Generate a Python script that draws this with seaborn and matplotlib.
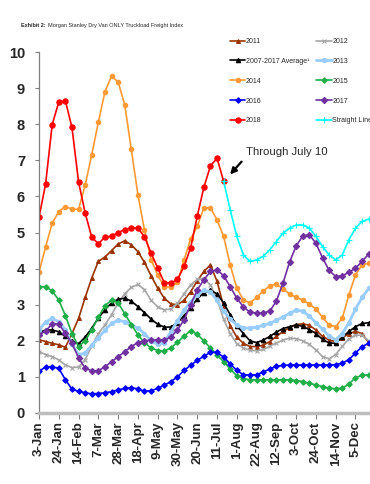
import matplotlib
matplotlib.use("Agg")
import matplotlib.pyplot as plt
import seaborn as sns

sns.set_theme(style="white")
plt.rcParams['font.family'] = ['Liberation Sans', 'DejaVu Sans']

weeks = list(range(51))
tick_weeks = list(range(0, 49, 3))
tick_labels = ['3-Jan', '24-Jan', '14-Feb', '7-Mar', '28-Mar', '18-Apr', '9-May',
               '30-May', '20-Jun', '11-Jul', '1-Aug', '22-Aug', '12-Sep', '3-Oct',
               '24-Oct', '14-Nov', '5-Dec']

y2011 = [2.03, 1.98, 1.93, 1.89, 1.82, 2.2, 2.62, 3.2, 3.74, 4.2, 4.32, 4.5, 4.68, 4.77,
         4.66, 4.47, 4.17, 3.8, 3.46, 3.18, 3.02, 3.0, 3.12, 3.36, 3.66, 3.92, 4.1, 3.65,
         2.95, 2.42, 2.1, 1.93, 1.84, 1.84, 1.88, 1.98, 2.12, 2.26, 2.36, 2.45, 2.47, 2.43,
         2.3, 2.12, 2.02, 1.98, 2.08, 2.2, 2.26, 2.2, 1.95]
y2012 = [1.7, 1.62, 1.56, 1.47, 1.33, 1.26, 1.27, 1.48, 1.85, 2.2, 2.44, 2.72, 3.05, 3.3,
         3.48, 3.56, 3.42, 3.12, 2.94, 2.86, 2.88, 3.04, 3.3, 3.55, 3.7, 3.72, 3.55, 3.15,
         2.6, 2.2, 1.92, 1.8, 1.74, 1.72, 1.76, 1.85, 1.94, 2.02, 2.07, 2.06, 2.0, 1.9,
         1.75, 1.56, 1.5, 1.62, 1.85, 2.05, 2.16, 2.15, 2.0]
avg = [2.23, 2.3, 2.3, 2.25, 2.12, 2.0, 1.92, 2.1, 2.35, 2.63, 2.86, 3.05, 3.15, 3.18,
       3.1, 2.95, 2.78, 2.6, 2.46, 2.38, 2.38, 2.5, 2.7, 2.92, 3.16, 3.33, 3.4, 3.3,
       3.05, 2.72, 2.42, 2.2, 2.0, 1.95, 2.02, 2.12, 2.24, 2.34, 2.39, 2.44, 2.4, 2.31,
       2.2, 2.04, 1.94, 1.93, 2.1, 2.26, 2.39, 2.48, 2.5]
y2013 = [2.3, 2.52, 2.62, 2.53, 2.3, 1.9, 1.62, 1.66, 1.88, 2.07, 2.3, 2.48, 2.57, 2.53,
         2.44, 2.35, 2.2, 2.0, 1.9, 1.95, 2.25, 2.55, 2.85, 3.08, 3.27, 3.4, 3.35, 3.12,
         2.82, 2.6, 2.44, 2.36, 2.35, 2.38, 2.43, 2.48, 2.57, 2.66, 2.76, 2.85, 2.82, 2.68,
         2.5, 2.32, 2.13, 2.03, 2.2, 2.5, 2.88, 3.2, 3.45]
y2014 = [3.9, 4.6, 5.26, 5.58, 5.72, 5.65, 5.64, 6.31, 7.16, 8.05, 8.9, 9.33, 9.17, 8.54,
         7.3, 6.05, 5.06, 4.25, 3.82, 3.5, 3.48, 3.62, 4.24, 4.82, 5.17, 5.68, 5.68, 5.35,
         4.89, 4.1, 3.46, 3.13, 3.05, 3.2, 3.38, 3.52, 3.57, 3.44, 3.3, 3.2, 3.13, 3.02,
         2.88, 2.65, 2.44, 2.39, 2.63, 3.27, 3.83, 4.1, 4.15]
y2015 = [3.5, 3.5, 3.38, 3.13, 2.7, 2.2, 1.84, 2.0, 2.3, 2.65, 2.97, 3.13, 3.05, 2.75,
         2.45, 2.17, 1.95, 1.8, 1.73, 1.72, 1.8, 1.96, 2.13, 2.28, 2.18, 2.0, 1.8, 1.61,
         1.42, 1.22, 1.03, 0.95, 0.92, 0.92, 0.92, 0.92, 0.92, 0.92, 0.92, 0.9, 0.87, 0.82,
         0.78, 0.73, 0.69, 0.67, 0.69, 0.8, 0.98, 1.04, 1.06]
y2016 = [1.15, 1.28, 1.28, 1.24, 0.92, 0.66, 0.6, 0.56, 0.53, 0.54, 0.56, 0.59, 0.64, 0.68,
         0.7, 0.67, 0.6, 0.62, 0.68, 0.77, 0.87, 1.0, 1.18, 1.32, 1.46, 1.57, 1.68, 1.68,
         1.55, 1.36, 1.18, 1.06, 1.05, 1.06, 1.13, 1.22, 1.29, 1.32, 1.33, 1.33, 1.33, 1.33,
         1.33, 1.33, 1.33, 1.34, 1.38, 1.48, 1.66, 1.84, 1.93]
y2017 = [2.16, 2.27, 2.47, 2.46, 2.21, 1.93, 1.53, 1.24, 1.17, 1.17, 1.28, 1.42, 1.56, 1.7,
         1.84, 1.95, 2.0, 2.02, 2.02, 2.02, 2.1, 2.3, 2.58, 3.0, 3.41, 3.69, 3.92, 3.97,
         3.8, 3.5, 3.18, 2.94, 2.79, 2.77, 2.77, 2.82, 3.1, 3.6, 4.18, 4.63, 4.9, 4.94,
         4.7, 4.3, 3.95, 3.78, 3.8, 3.9, 4.01, 4.2, 4.4]
y2018 = [5.42, 6.34, 7.99, 8.61, 8.65, 7.91, 6.4, 5.54, 4.87, 4.69, 4.87, 4.9, 5.0, 5.08,
         5.13, 5.12, 4.88, 4.43, 4.02, 3.61, 3.6, 3.7, 4.06, 4.58, 5.45, 6.25, 6.84, 7.06,
         6.42]
straight = [6.42, 5.63, 4.89, 4.38, 4.2, 4.24, 4.34, 4.52, 4.75, 4.98, 5.12, 5.21, 5.21,
            5.12, 4.89, 4.61, 4.38, 4.24, 4.38, 4.8, 5.12, 5.31, 5.37]
straight_weeks = weeks[28:]

series = [
    ('2011', weeks, y2011, '#993300', '^', 2.8, 1.2),
    ('2012', weeks, y2012, '#a6a6a6', 'x', 2.8, 1.2),
    ('2007-2017 Average¹', weeks, avg, '#000000', '^', 3.2, 1.2),
    ('2013', weeks, y2013, '#99ccff', 'o', 3.0, 2.0),
    ('2014', weeks, y2014, '#ff9933', 'o', 3.2, 1.2),
    ('2015', weeks, y2015, '#1fae47', 'D', 2.8, 1.2),
    ('2016', weeks, y2016, '#0000ff', 'D', 2.8, 1.2),
    ('2017', weeks, y2017, '#7030a0', 'D', 3.2, 1.2),
    ('2018', weeks[:len(y2018)], y2018, '#ff0000', 'o', 3.8, 1.2),
    ('Straight Line Analysis', straight_weeks, straight, '#00ffff', '+', 4.0, 1.2),
]

fig = plt.figure(figsize=(3.7, 4.84), dpi=100)
ax = fig.add_axes([39 / 370, 1 - 413 / 484, 1 - 39 / 370, (413 - 52) / 484])

handles = {}
for name, xs, ys, col, mk, ms, lw in series:
    sns.lineplot(x=xs, y=ys, color=col, marker=mk, markersize=ms, linewidth=lw,
                 markeredgecolor=col, markeredgewidth=0.8, ax=ax, legend=False)
    handles[name] = ax.get_lines()[-1]

ax.set_xlim(0, 50.2)
ax.set_ylim(0, 10)
ax.set_xticks(tick_weeks)
ax.set_xticklabels(tick_labels, rotation=90, fontsize=9.5, fontweight='bold')
ax.set_yticks(range(0, 11))
ax.set_yticklabels([str(v) for v in range(0, 11)], fontsize=10.5, fontweight='bold')
ax.tick_params(axis='x', direction='out', length=4, width=0.8, color='#808080', pad=2,
               bottom=True)
ax.tick_params(axis='y', direction='out', length=3, width=0.8, color='#808080', pad=7,
               left=True)
for s in ['top', 'right']:
    ax.spines[s].set_visible(False)
ax.spines['left'].set_color('#808080')
ax.spines['left'].set_linewidth(0.9)
ax.spines['bottom'].set_color('#bdbdbd')
ax.spines['bottom'].set_linewidth(2.5)

order = ['2011', '2007-2017 Average¹', '2014', '2016', '2018',
         '2012', '2013', '2015', '2017', 'Straight Line Analysis']
fig.legend([handles[n] for n in order], order, ncol=2, loc='upper left',
           bbox_to_anchor=(230 / 370, 1 - 38 / 484), frameon=False, fontsize=5,
           handlelength=2.2, handletextpad=0.1, columnspacing=1.0, labelspacing=1.85,
           borderpad=0, borderaxespad=0)

ax.annotate('', xy=(28.7, 6.55), xytext=(31.0, 7.02),
            arrowprops=dict(arrowstyle='-|>', color='black', lw=1.6, mutation_scale=9))
ax.text(31.4, 7.15, 'Through July 10', fontsize=8.2, ha='left', va='baseline')

t1 = fig.text(21 / 370, 1 - 27 / 484, 'Exhibit 2:', fontsize=4, fontweight='bold')
fig.canvas.draw()
bb = t1.get_window_extent()
fig.text((bb.x1 + 2) / 370, 1 - 27 / 484,
         'Morgan Stanley Dry Van ONLY Truckload Freight Index', fontsize=4)

fig.savefig('out.png', dpi=100)
